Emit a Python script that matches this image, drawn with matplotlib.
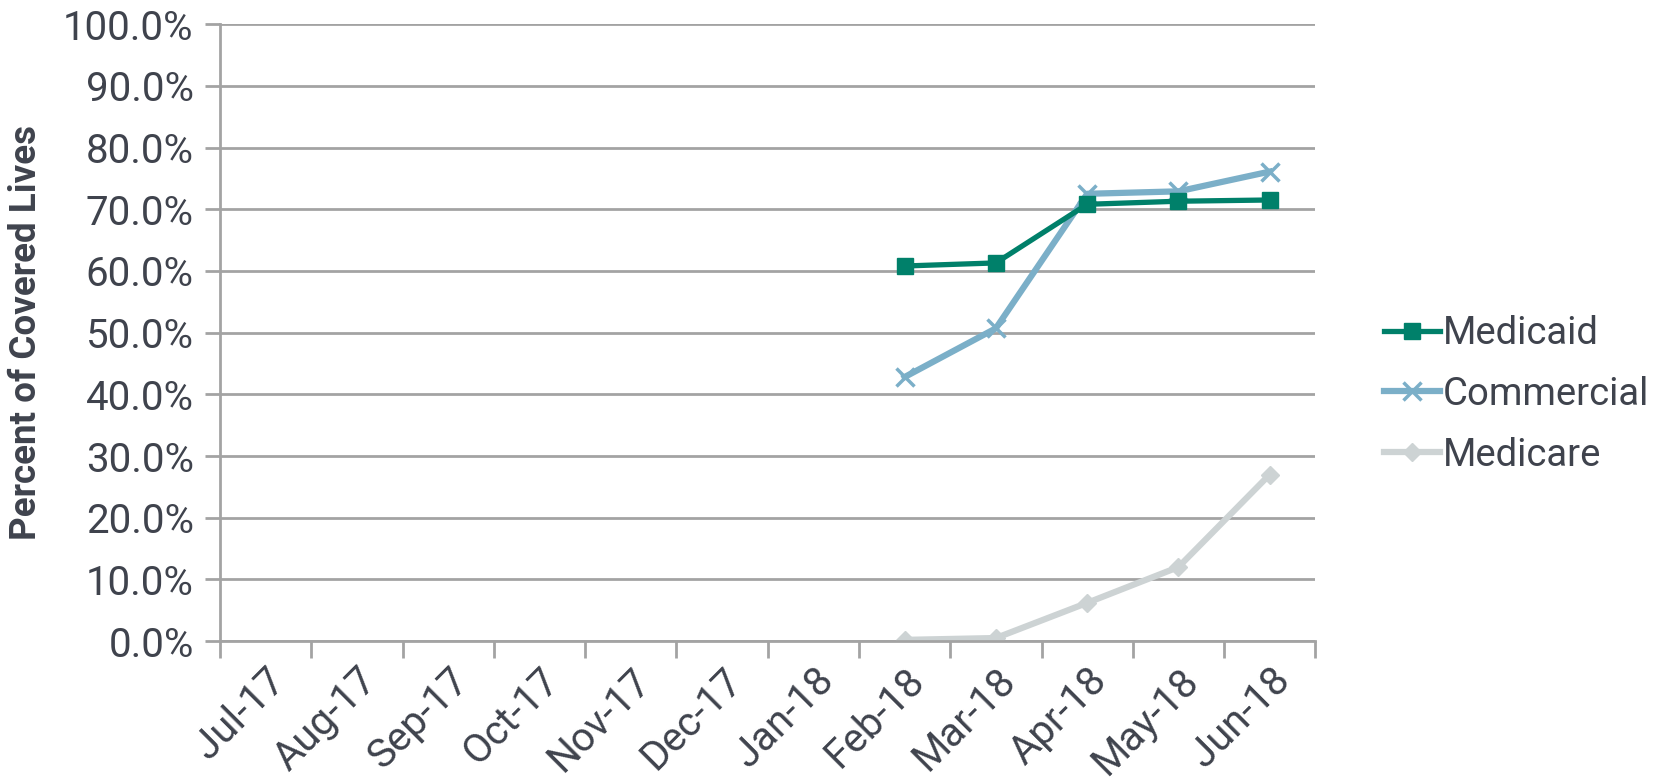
import matplotlib.pyplot as plt
import numpy as np
from matplotlib.ticker import FuncFormatter

plt.rcParams['font.family'] = ['Roboto', 'DejaVu Sans']

# Data
months = ['Jul-17', 'Aug-17', 'Sep-17', 'Oct-17', 'Nov-17', 'Dec-17',
          'Jan-18', 'Feb-18', 'Mar-18', 'Apr-18', 'May-18', 'Jun-18']
medicaid = [None] * 7 + [60.8, 61.3, 70.8, 71.3, 71.5]
commercial = [None] * 7 + [42.8, 50.7, 72.5, 72.9, 76.1]
medicare = [None] * 7 + [0.2, 0.5, 6.2, 12.0, 27.0]
yticks = np.arange(0, 101, 10)

text_col = '#3f434d'
grid_col = '#a3a3a3'

fig = plt.figure(figsize=(16.57, 7.79), dpi=100)
ax = fig.add_axes([0.1328, 0.177, 0.661, 0.792])

x = np.arange(len(months))

def arr(v):
    return np.array([np.nan if a is None else a for a in v], dtype=float)

ax.plot(x, arr(medicaid), color='#00806a', lw=3.8, marker='s', ms=11,
        label='Medicaid', zorder=4)
ax.plot(x, arr(commercial), color='#7bafc8', lw=4.5, marker='x', ms=13, mew=2.5,
        label='Commercial', zorder=3)
ax.plot(x, arr(medicare), color='#cdd3d4', lw=4.5, marker='D', ms=9,
        label='Medicare', zorder=2)

ax.set_xlim(-0.5, len(months) - 0.5)
ax.set_ylim(0, 100)
ax.set_yticks(yticks)
ax.yaxis.set_major_formatter(FuncFormatter(lambda v, p: f'{v:.1f}%'))
ax.set_xticks(x)
ax.set_xticklabels(months, rotation=45, ha='right', rotation_mode='anchor')
ax.set_xticks(np.arange(-0.5, len(months)), minor=True)
ax.tick_params(axis='x', which='major', length=0, pad=14)
ax.tick_params(axis='x', which='minor', length=12, width=2, color=grid_col)
ax.tick_params(axis='y', length=11, width=2, color=grid_col, pad=8)
ax.tick_params(labelsize=29, labelcolor=text_col)

ax.grid(axis='y', color=grid_col, lw=2)
ax.set_axisbelow(True)
for s in ['top', 'right']:
    ax.spines[s].set_visible(False)
for s in ['left', 'bottom']:
    ax.spines[s].set_color(grid_col)
    ax.spines[s].set_linewidth(2)

ax.set_ylabel('Percent of Covered Lives', fontsize=26.5, fontweight='bold',
              color=text_col, labelpad=14)

leg = ax.legend(loc='center left', bbox_to_anchor=(1.063, 0.40), frameon=False,
                fontsize=27.5, handlelength=1.45, handletextpad=0.08,
                labelspacing=0.62, borderpad=0, borderaxespad=0,
                labelcolor=text_col)

fig.savefig('out.png', dpi=100)
